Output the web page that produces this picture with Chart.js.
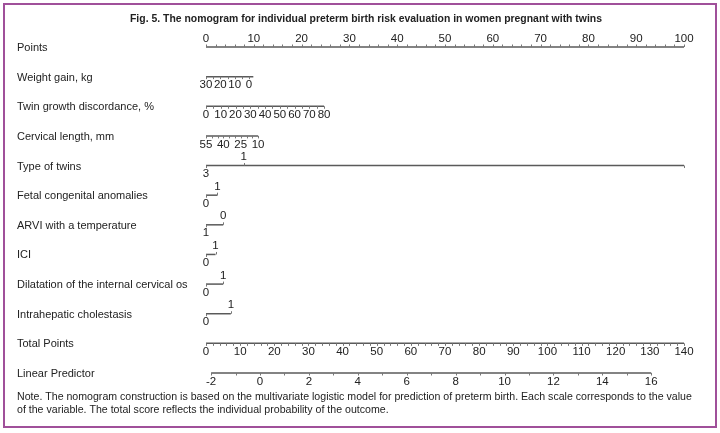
<!DOCTYPE html>
<html>
<head>
<meta charset="utf-8">
<script src="https://cdn.jsdelivr.net/npm/chart.js@4.4.0/dist/chart.umd.min.js"></script>
<style>
  html, body { margin: 0; padding: 0; background: #fff; }
  #wrap { position: relative; width: 720px; height: 433px; }
  #frame { position: absolute; left: 3px; top: 3px; width: 714px; height: 425px; border: 2px solid #a0509a; box-sizing: border-box; pointer-events: none; }
  canvas { position: absolute; left: 0; top: 0; }
</style>
</head>
<body>
<div id="wrap">
  <canvas id="nomo" width="720" height="433"></canvas>
  <div id="frame"></div>
</div>
<script>
// ---- data ----
const titleText = 'Fig. 5. The nomogram for individual preterm birth risk evaluation in women pregnant with twins';
const noteLines = [
  'Note. The nomogram construction is based on the multivariate logistic model for prediction of preterm birth. Each scale corresponds to the value',
  'of the variable. The total score reflects the individual probability of the outcome.'
];
const rowNames = ['Points', 'Weight gain, kg', 'Twin growth discordance, %', 'Cervical length, mm', 'Type of twins',
  'Fetal congenital anomalies', 'ARVI with a temperature', 'ICI', 'Dilatation of the internal cervical os',
  'Intrahepatic cholestasis', 'Total Points', 'Linear Predictor'];

// Points scale
const pointTicks = [0,2,4,6,8,10,12,14,16,18,20,22,24,26,28,30,32,34,36,38,40,42,44,46,48,50,52,54,56,58,60,62,64,66,68,70,72,74,76,78,80,82,84,86,88,90,92,94,96,98,100];
const pointLabels = [0,10,20,30,40,50,60,70,80,90,100];

// continuous predictors: value range and the points those ends score
const weightTicks = [30,25,20,15,10,5,0];
const weightLabels = [30,20,10,0];
const weightEnds = [30, -3];
const weightEndPoints = [0, 9.9];

const discordTicks = [0,5,10,15,20,25,30,35,40,45,50,55,60,65,70,75,80];
const discordLabels = [0,10,20,30,40,50,60,70,80];
const discordEnds = [0, 80];
const discordEndPoints = [0, 24.7];

const cervixTicks = [55,50,45,40,35,30,25,20,15,10];
const cervixLabels = [55,40,25,10];
const cervixEnds = [55, 10];
const cervixEndPoints = [0, 10.9];

// categorical predictors: levels and their points
const twinsLevels = ['3', '1', ''];
const twinsPoints = [0, 7.9, 100];
const anomalyLevels = ['0', '1'];
const anomalyPoints = [0, 2.4];
const arviLevels = ['1', '0'];
const arviPoints = [0, 3.6];
const iciLevels = ['0', '1'];
const iciPoints = [0, 2.0];
const dilatLevels = ['0', '1'];
const dilatPoints = [0, 3.6];
const cholLevels = ['0', '1'];
const cholPoints = [0, 5.2];

// total points and linear predictor
const totalMax = 140;
const totalTicks = [0,2,4,6,8,10,12,14,16,18,20,22,24,26,28,30,32,34,36,38,40,42,44,46,48,50,52,54,56,58,60,62,64,66,68,70,72,74,76,78,80,82,84,86,88,90,92,94,96,98,100,102,104,106,108,110,112,114,116,118,120,122,124,126,128,130,132,134,136,138,140];
const totalLabels = [0,10,20,30,40,50,60,70,80,90,100,110,120,130,140];
const lpTicks = [-2,-1,0,1,2,3,4,5,6,7,8,9,10,11,12,13,14,15,16];
const lpLabels = [-2,0,2,4,6,8,10,12,14,16];
const lpEnds = [-2, 16];
const lpEndTotals = [1.5, 130.4];

// ---- helpers ----
const lin = (v, ends, pts) => pts[0] + (v - ends[0]) * (pts[1] - pts[0]) / (ends[1] - ends[0]);
const tot2pts = t => t * 100 / totalMax;

function contRow(row, ticks, labels, ends, endPts, side) {
  return {
    row, side,
    line: [lin(ends[0], ends, endPts), lin(ends[1], ends, endPts)],
    ticks: ticks.map(v => lin(v, ends, endPts)),
    labels: labels.map(v => ({ x: lin(v, ends, endPts), text: String(v), side }))
  };
}
function catRow(row, levels, pts) {
  return {
    row, side: 0,
    line: [Math.min(...pts), Math.max(...pts)],
    ticks: pts.slice(),
    tickSides: pts.map((p, i) => (i % 2 === 0 ? 1 : -1)),
    labels: levels.map((l, i) => ({ x: pts[i], text: l, side: i % 2 === 0 ? 1 : -1 }))
  };
}

const scalesRows = [
  { row: 0, side: -1, line: [0, 100], ticks: pointTicks, labels: pointLabels.map(v => ({ x: v, text: String(v), side: -1 })) },
  contRow(1, weightTicks, weightLabels, weightEnds, weightEndPoints, 1),
  contRow(2, discordTicks, discordLabels, discordEnds, discordEndPoints, 1),
  contRow(3, cervixTicks, cervixLabels, cervixEnds, cervixEndPoints, 1),
  catRow(4, twinsLevels, twinsPoints),
  catRow(5, anomalyLevels, anomalyPoints),
  catRow(6, arviLevels, arviPoints),
  catRow(7, iciLevels, iciPoints),
  catRow(8, dilatLevels, dilatPoints),
  catRow(9, cholLevels, cholPoints),
  { row: 10, side: 1, line: [0, 100], ticks: totalTicks.map(tot2pts), labels: totalLabels.map(v => ({ x: tot2pts(v), text: String(v), side: 1 })) },
  contRow(11, lpTicks, lpLabels, lpEnds, lpEndTotals.map(tot2pts), 1)
];

const lineColor = '#5a5a5a';
const tickColor = '#777';
const textColor = '#222';
const fontName = '"Liberation Sans", Arial, sans-serif';

const datasets = scalesRows.map(r => ({
  data: [{ x: r.line[0], y: r.row }, { x: r.line[1], y: r.row }],
  borderColor: lineColor,
  borderWidth: 1.5,
  pointRadius: 0,
  clip: false
}));

const nomoText = {
  id: 'nomoText',
  afterDatasetsDraw(chart) {
    const ctx = chart.ctx;
    const xs = chart.scales.x, ys = chart.scales.y;
    ctx.save();
    // ticks
    ctx.strokeStyle = tickColor;
    ctx.lineWidth = 1;
    scalesRows.forEach(r => {
      const y = ys.getPixelForValue(r.row);
      r.ticks.forEach((t, i) => {
        const side = r.tickSides ? r.tickSides[i] : r.side;
        const x = Math.round(xs.getPixelForValue(t)) + 0.5;
        ctx.beginPath();
        ctx.moveTo(x, y);
        ctx.lineTo(x, y + side * 2.5);
        ctx.stroke();
      });
    });
    // tick labels
    ctx.fillStyle = textColor;
    ctx.font = '11.5px ' + fontName;
    ctx.textAlign = 'center';
    ctx.textBaseline = 'middle';
    scalesRows.forEach(r => {
      const y = ys.getPixelForValue(r.row);
      r.labels.forEach(l => {
        if (!l.text) return;
        ctx.fillText(l.text, xs.getPixelForValue(l.x), y + l.side * 8.5);
      });
    });
    // row names
    ctx.font = '11px ' + fontName;
    ctx.textAlign = 'left';
    rowNames.forEach((n, i) => ctx.fillText(n, 17, ys.getPixelForValue(i) + 1));
    // title
    ctx.font = 'bold 11px ' + fontName;
    ctx.textAlign = 'center';
    ctx.fillText(titleText, 366, 19, 472);
    // note
    ctx.font = '10.6px ' + fontName;
    ctx.textAlign = 'left';
    noteLines.forEach((s, i) => ctx.fillText(s, 17, 397 + i * 13));
    ctx.restore();
  }
};

new Chart(document.getElementById('nomo'), {
  type: 'line',
  data: { datasets },
  options: {
    responsive: false,
    animation: false,
    devicePixelRatio: 1,
    layout: { padding: { left: 206, right: 36, top: 47, bottom: 60 } },
    scales: {
      x: { type: 'linear', min: 0, max: 100, display: false },
      y: { type: 'linear', min: 0, max: 11, reverse: true, display: false }
    },
    plugins: { legend: { display: false }, tooltip: { enabled: false } }
  },
  plugins: [nomoText]
});
</script>
</body>
</html>
